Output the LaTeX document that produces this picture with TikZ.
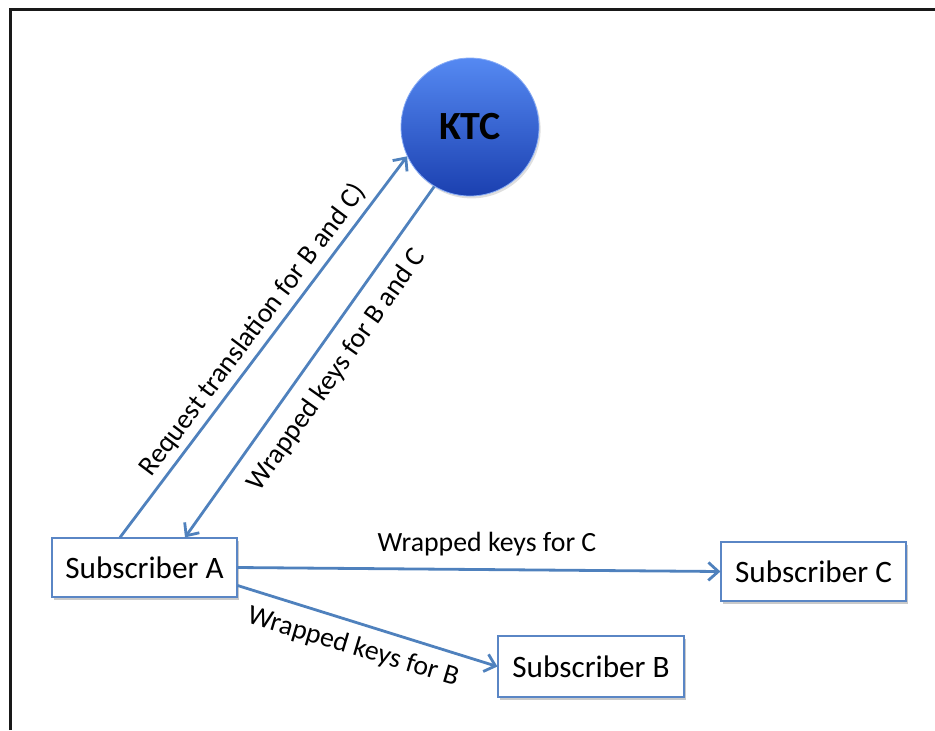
\documentclass[tikz,border=0pt]{standalone}
\usepackage{fontspec}
\setmainfont{Carlito}
\usetikzlibrary{arrows.meta,shadows}
\definecolor{arrowblue}{HTML}{4F81BD}
\definecolor{boxline}{HTML}{5A86C5}
\definecolor{ktctop}{HTML}{5589F2}
\definecolor{ktcbot}{HTML}{1B40B0}
\tikzset{
  subbox/.style={draw=boxline, line width=0.6pt, fill=white, minimum width=92.5pt, minimum height=29.5pt, inner sep=0pt,
    font=\fontsize{15.6}{18}\selectfont,
    drop shadow={shadow xshift=1.2pt, shadow yshift=-1.6pt, opacity=0.35, fill=black!60}},
  conn/.style={draw=arrowblue, line width=1.4pt, -{Straight Barb[length=5pt,width=9pt]}},
  lbl/.style={font=\fontsize{13.9}{16}\selectfont, inner sep=0pt},
  frameline/.style={draw=black!90, line width=1.5pt}
}
\begin{document}
\begin{tikzpicture}[x=0.5pt,y=-0.5pt]
\useasboundingbox (0,0) rectangle (935,730);
\draw[frameline] (10,730) -- (10,9) -- (935,9);
% KTC circle
\node[circle, minimum size=69pt, inner sep=0pt, top color=ktctop, bottom color=ktcbot, draw=ktctop!70!white, line width=0.4pt,
  drop shadow={shadow xshift=0.8pt, shadow yshift=-1.2pt, opacity=0.25},
  font=\bfseries\fontsize{20}{24}\selectfont] (ktc) at (470,127) {KTC};
% subscribers
\node[subbox] (A) at (144.5,567.5) {Subscriber A};
\node[subbox] (C) at (813.5,571.5) {Subscriber C};
\node[subbox, minimum width=93pt, minimum height=30.5pt] (B) at (591,666.5) {Subscriber B};
% anchor coordinates
\coordinate (Areq) at ([xshift=-12.25pt]A.north);
\coordinate (Aret) at ([xshift=20.25pt]A.north);
\coordinate (AtoB) at ([yshift=-9pt]A.east);
% connectors
\draw[conn] (Areq) -- (ktc.205);
\draw[conn] (ktc.239) -- (Aret);
\draw[conn] (A.east) -- (C.west);
\draw[conn] (AtoB) -- (B.west);
% labels
\node[lbl, rotate=53] (l1) at (253,330) {Request translation for B and C)};
\node[lbl, rotate=54.7] (l2) at (337,370) {Wrapped keys for B and C};
\node[lbl] (l3) at (487,544) {Wrapped keys for C};
\node[lbl, rotate=-16.6] (l4) at (353,647) {Wrapped keys for B};
\end{tikzpicture}
\end{document}
